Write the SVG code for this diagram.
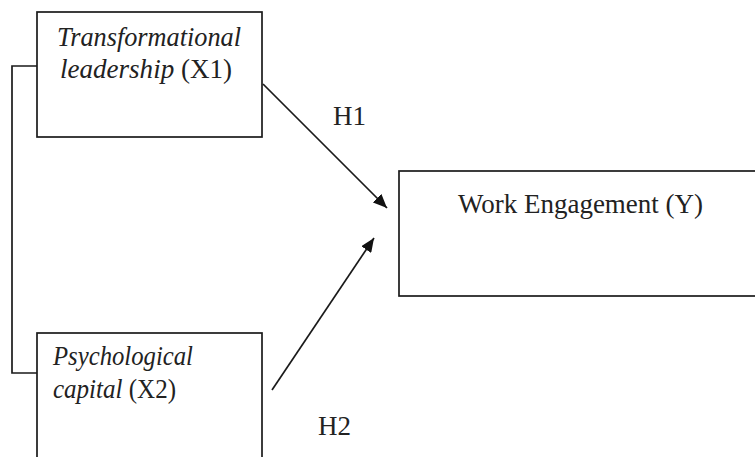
<svg xmlns="http://www.w3.org/2000/svg" width="755" height="457" viewBox="0 0 755 457">
<defs>
<style>
.box{fill:#fff;stroke:#1a1a1a;stroke-width:1.7}
.t{font-family:"Liberation Serif","Times New Roman",serif;font-size:27px;fill:#222}
.i{font-style:italic}
.ln{fill:none;stroke:#1a1a1a;stroke-width:1.7}
</style>
<marker id="ah" viewBox="0 0 14 12" refX="14" refY="6" markerWidth="14" markerHeight="12" markerUnits="userSpaceOnUse" orient="auto">
<path d="M0,0 L14,6 L0,12 z" fill="#111"/>
</marker>
</defs>
<rect width="755" height="457" fill="#fff"/>
<g id="connectors">
<polyline class="ln" points="37,66 12,66 12,373 37,373"/>
<line class="ln" x1="263" y1="84" x2="387" y2="208" marker-end="url(#ah)"/>
<line class="ln" x1="272" y1="390" x2="374" y2="238" marker-end="url(#ah)"/>
</g>
<g id="x1">
<rect class="box" x="37" y="12" width="225" height="125"/>
<text class="t" x="57" y="46" textLength="184" lengthAdjust="spacingAndGlyphs"><tspan class="i">Transformational</tspan></text>
<text class="t" x="60" y="78" textLength="172" lengthAdjust="spacingAndGlyphs"><tspan class="i">leadership</tspan> (X1)</text>
</g>
<g id="x2">
<rect class="box" x="37" y="333" width="225" height="140"/>
<text class="t" x="53" y="365" textLength="140" lengthAdjust="spacingAndGlyphs"><tspan class="i">Psychological</tspan></text>
<text class="t" x="53" y="398" textLength="123" lengthAdjust="spacingAndGlyphs"><tspan class="i">capital</tspan> (X2)</text>
</g>
<g id="y">
<rect class="box" x="399" y="171" width="370" height="125"/>
<text class="t" x="458" y="213" textLength="245" lengthAdjust="spacingAndGlyphs">Work Engagement (Y)</text>
</g>
<g id="labels">
<text class="t" x="333" y="125">H1</text>
<text class="t" x="318" y="435">H2</text>
</g>
</svg>
